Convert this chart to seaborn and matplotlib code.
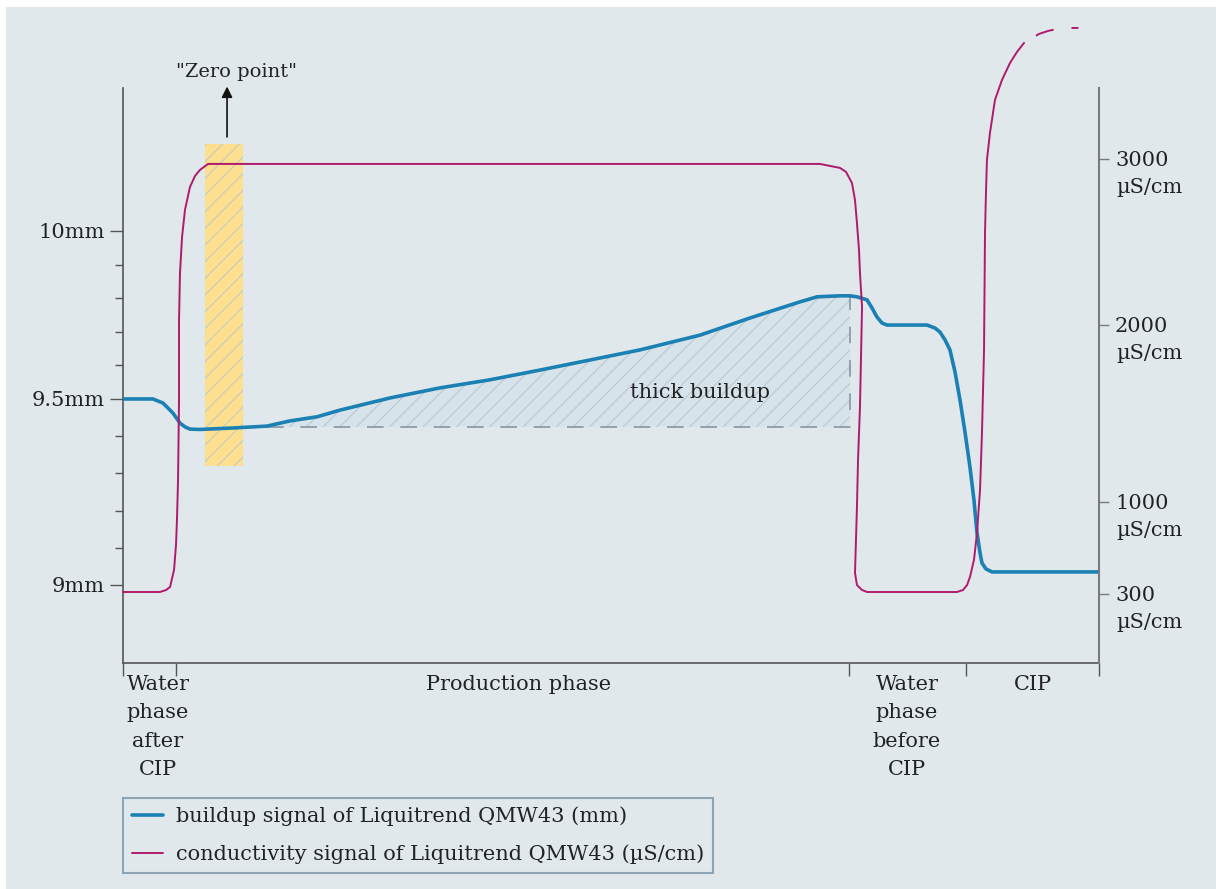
import numpy as np
import matplotlib
matplotlib.use('Agg')
import matplotlib.pyplot as plt
import seaborn as sns
from matplotlib.patches import Rectangle
from matplotlib.lines import Line2D

# time axis is arbitrary (0-100)
t_buildup = [0, 3.07, 4.10, 5.12, 5.84, 6.35, 6.86, 7.89, 11.27, 14.75, 17.11, 19.88,
             22.23, 27.36, 32.48, 37.60, 42.73, 47.85, 52.97, 59.12, 64.24, 69.36,
             71.11, 73.46, 74.49, 75.20, 76.23, 76.74, 77.25, 77.77, 78.28, 82.38,
             83.20, 83.71, 84.22, 84.73, 85.25, 85.76, 86.27, 86.78, 87.19, 87.50,
             87.81, 88.01, 88.42, 89.04, 100]
buildup_mm = [9.500, 9.500, 9.489, 9.462, 9.435, 9.425, 9.419, 9.418, 9.422, 9.427,
              9.441, 9.452, 9.470, 9.503, 9.533, 9.557, 9.586, 9.616, 9.646, 9.690,
              9.741, 9.789, 9.804, 9.807, 9.807, 9.804, 9.795, 9.771, 9.744, 9.726,
              9.720, 9.720, 9.711, 9.699, 9.676, 9.646, 9.580, 9.497, 9.411, 9.317,
              9.228, 9.140, 9.086, 9.059, 9.043, 9.035, 9.035]

t_cond = [0, 3.79, 4.41, 4.82, 5.23, 5.43, 5.53, 5.64, 5.74, 5.74, 5.84, 6.05, 6.35,
          6.86, 7.38, 7.89, 8.71, 71.41, 73.46, 74.08, 74.69, 75.00, 75.20, 75.41,
          75.51, 75.72, 75.61, 75.51, 75.31, 75.20, 75.00, 75.20, 75.72, 76.23,
          85.45, 86.07, 86.48, 86.78, 87.19, 87.50, 87.81, 88.01, 88.22, 88.32,
          88.42, 88.52, 88.83, 89.34, 90.06, 90.88, 91.60, 92.32]
cond_us = [315, 315, 330, 353, 483, 673, 863, 1124, 1576, 2030, 2313, 2530, 2693,
           2831, 2898, 2934, 2970, 2970, 2946, 2922, 2855, 2753, 2614, 2452,
           2313, 2108, 1802, 1537, 1237, 962, 460, 368, 330, 315,
           315, 330, 368, 429, 559, 764, 1068, 1390, 1859, 2554,
           2800, 2994, 3157, 3355, 3476, 3578, 3645, 3699]
t_cond_dash = [92.32, 93.85, 94.77, 95.70, 96.62, 97.54, 98.26]
cond_us_dash = [3699, 3753, 3771, 3783, 3789, 3789, 3789]

phase_edges = [0, 5.43, 74.39, 86.37, 100]
phase_labels = ['Water\nphase\nafter\nCIP', 'Production phase',
                'Water\nphase\nbefore\nCIP', 'CIP']
phase_label_pos = [3.59, 40.57, 80.33, 93.24]

mm_ticks = [9, 9.5, 10]
mm_labels = ['9mm', '9.5mm', '10mm']
mm_minor = [9.1, 9.2, 9.3, 9.4, 9.6, 9.7, 9.8, 9.9]
cond_ticks = [300, 1000, 2000, 3000]

zero_t = [8.40, 12.30]
zero_mm = (9.319, 10.259)
base_mm = 9.425
buildup_t = (14.75, 74.49)

bg = '#e0e8ec'
blue = '#1b80b3'
pink = '#b01a6b'

sns.set_theme(style='ticks')
plt.rcParams['font.family'] = ['DejaVu Serif']
plt.rcParams['lines.scale_dashes'] = False
plt.rcParams['hatch.linewidth'] = 0.8
fs = 15

W, H = 1216, 889
fig = plt.figure(figsize=(W / 100, H / 100), dpi=100, facecolor='white')
fig.patches.append(Rectangle((6 / W, 0), 1, 1 - 7 / H, transform=fig.transFigure,
                             facecolor=bg, edgecolor='none', zorder=-10))
ax = fig.add_axes([123 / W, 1 - 663 / H, (1099 - 123) / W, 643 / H])
ax2 = ax.twinx()
for a in (ax, ax2):
    a.patch.set_visible(False)

# the printed scales are not linear, so map them piecewise
mm_pts = [8, 9, 9.5, 10, 11]
mm_pos = [-370, 0, 186, 354, 690]
c_pts = [-1000, 0, 300, 1000, 2000, 3000, 4000, 5000]
c_pos = [-100, 30, 69, 161, 338, 504, 670, 836]
ax.set_yscale('function', functions=(lambda v: np.interp(v, mm_pts, mm_pos),
                                     lambda p: np.interp(p, mm_pos, mm_pts)))
ax2.set_yscale('function', functions=(lambda v: np.interp(v, c_pts, c_pos),
                                      lambda p: np.interp(p, c_pos, c_pts)))
ax.set_xlim(0, 100)
ax.set_ylim(8.789, 10.628)
ax2.set_ylim(-231, 3837)

# "zero point" window
ax.fill_between(zero_t, zero_mm[0], zero_mm[1], facecolor='#fde08f',
                edgecolor='#c6cac3', hatch='//', linewidth=0, zorder=1)

# thick buildup area
tb = np.array(t_buildup)
yb = np.array(buildup_mm)
m = (tb >= buildup_t[0]) & (tb <= buildup_t[1])
ax.fill_between(tb[m], base_mm, yb[m], facecolor='#d6e3eb', edgecolor='#bcc8d0',
                hatch='//', linewidth=0, zorder=1)
ax.plot([buildup_t[0], buildup_t[1], buildup_t[1]], [base_mm, base_mm, buildup_mm[24]],
        color='#8c9ca7', lw=1.3, dashes=(12, 12), zorder=2)
ax.text(59.12, 9.518, 'thick buildup', ha='center', va='center', fontsize=fs, color='#222')

sns.lineplot(x=t_buildup, y=buildup_mm, ax=ax, color=blue, lw=2.6, sort=False,
             estimator=None, zorder=3)
sns.lineplot(x=t_cond, y=cond_us, ax=ax2, color=pink, lw=1.4, sort=False,
             estimator=None, zorder=3)
ax2.plot(t_cond_dash, cond_us_dash, color=pink, lw=1.4, dashes=(0, 10, 13.5, 13, 5, 20),
         clip_on=False, zorder=3)
for line in ax2.lines:
    line.set_clip_on(False)

ax.annotate('', xy=(10.66, 10.43), xytext=(10.66, 10.28),
            arrowprops=dict(arrowstyle='-|>', color='#111', lw=1.2, mutation_scale=16,
                            shrinkA=0, shrinkB=0))
ax.text(11.68, 10.473, '"Zero point"', ha='center', va='center', fontsize=fs - 1, color='#222')

# axes styling
for s in ['top', 'right']:
    ax.spines[s].set_visible(False)
for s in ['top', 'left', 'bottom']:
    ax2.spines[s].set_visible(False)
ax.spines['left'].set_bounds(8.789, 10.426)
ax2.spines['right'].set_bounds(-231, 3428)
for s in [ax.spines['left'], ax.spines['bottom']]:
    s.set_color('#555')
    s.set_linewidth(1.2)
ax2.spines['right'].set_color('#7a7a7a')
ax2.spines['right'].set_linewidth(1.5)

ax.set_yticks(mm_ticks)
ax.set_yticklabels(mm_labels)
ax.set_yticks(mm_minor, minor=True)
ax.tick_params(axis='y', which='major', length=9.5, width=1, color='#555', pad=3.5,
               labelsize=fs, labelcolor='#222')
ax.tick_params(axis='y', which='minor', length=6, width=1, color='#555')
ax.set_xticks(phase_edges)
ax.set_xticklabels([])
ax.tick_params(axis='x', length=9.5, width=1, color='#555')
ax.set_xlabel('')
ax.set_ylabel('')

ax2.set_yticks(cond_ticks)
ax2.set_yticklabels([str(v) for v in cond_ticks])
ax2.tick_params(axis='y', length=7, width=1, color='#7a7a7a', pad=4.5,
                labelsize=fs, labelcolor='#222')
ax2.set_ylabel('')
for v in cond_ticks:
    ax2.annotate('µS/cm', xy=(1, v), xycoords=('axes fraction', 'data'),
                 xytext=(17, -29), textcoords='offset pixels', ha='left', va='center',
                 fontsize=fs, color='#222')

for x, lab in zip(phase_label_pos, phase_labels):
    ax.annotate(lab, xy=(x, 0), xycoords=('data', 'axes fraction'), xytext=(0, -12),
                textcoords='offset pixels', ha='center', va='top', fontsize=fs,
                color='#222', linespacing=1.63)

handles = [Line2D([], [], color=blue, lw=2.6), Line2D([], [], color=pink, lw=1.4)]
labels = ['buildup signal of Liquitrend QMW43 (mm)',
          'conductivity signal of Liquitrend QMW43 (µS/cm)']
leg = fig.legend(handles, labels, loc='upper left', bbox_to_anchor=(123 / W, 1 - 798 / H),
                 borderaxespad=0, fontsize=fs, frameon=True, fancybox=False,
                 edgecolor='#8fa4b2', facecolor=bg, framealpha=1, handlelength=1.5,
                 handletextpad=0.62, labelspacing=0.88, borderpad=0.42)
leg.get_frame().set_linewidth(1.5)
for txt in leg.get_texts():
    txt.set_color('#222')

fig.savefig('out.png', dpi=100, facecolor='white')
